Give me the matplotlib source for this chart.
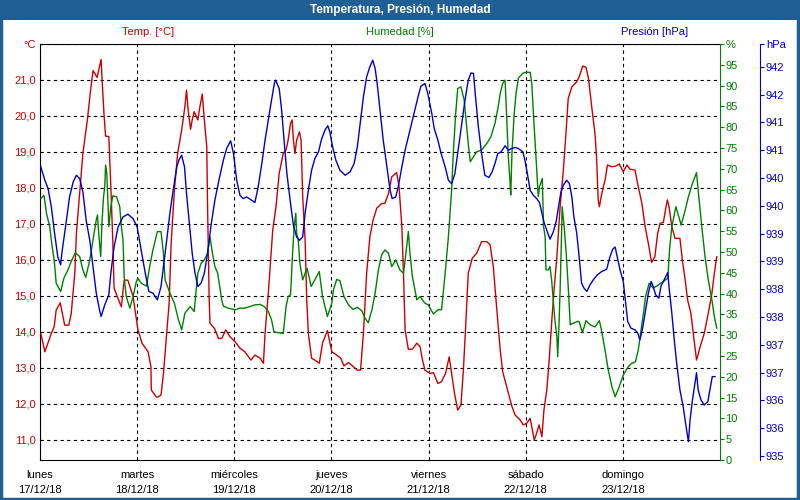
import matplotlib
matplotlib.use("Agg")
import matplotlib.pyplot as plt
from matplotlib.patches import Rectangle
import numpy as np

plt.rcParams["font.family"] = ["Liberation Sans", "DejaVu Sans"]

# ---------------------------------------------------------------------------
# data (hours since lunes 17/12/18 00:00)
days = ["lunes", "martes", "miércoles", "jueves", "viernes", "sábado", "domingo"]
dates = ["17/12/18", "18/12/18", "19/12/18", "20/12/18", "21/12/18", "22/12/18", "23/12/18"]

temp_h = [0.2, 1.2, 2.8, 3.5, 4.0, 5.0, 6.1, 7.1, 7.7, 8.6,
          9.0, 9.8, 10.6, 11.7, 12.5, 13.1, 13.5, 14.1, 14.6, 15.1,
          15.3, 15.8, 16.2, 17.0, 17.5, 18.0, 18.3, 19.1, 20.1, 20.8,
          21.7, 23.0, 24.2, 25.2, 26.7, 27.4, 27.5, 28.7, 29.1, 29.9,
          30.5, 31.3, 31.9, 32.4, 33.2, 34.0, 35.0, 35.8, 36.2, 36.6,
          37.2, 37.6, 38.1, 39.0, 39.5, 40.1, 40.6, 41.2, 41.4, 41.8,
          42.0, 43.1, 44.1, 44.9, 45.9, 46.9, 48.2, 49.4, 50.6, 52.1,
          53.1, 54.4, 55.2, 55.6, 56.4, 57.1, 57.5, 58.3, 59.1, 60.1,
          60.8, 61.3, 61.9, 62.3, 62.6, 63.0, 63.4, 64.1, 64.5, 64.9,
          65.5, 65.9, 66.3, 67.1, 67.9, 69.0, 69.8, 71.0, 72.1, 73.3,
          74.3, 75.1, 76.2, 77.4, 78.4, 79.2, 79.9, 80.7, 81.5, 82.3,
          83.2, 84.4, 85.2, 86.1, 86.9, 88.1, 88.7, 89.4, 89.8, 90.2,
          91.0, 92.0, 93.1, 93.9, 94.5, 95.1, 96.4, 97.2, 98.3, 99.2,
          100.2, 101.1, 101.7, 102.4, 103.2, 104.0, 104.6, 105.2, 105.8, 106.8,
          107.9, 109.1, 110.4, 111.2, 112.0, 112.8, 113.7, 114.3, 115.3, 116.6,
          117.4, 118.6, 119.4, 120.2, 121.1, 121.5, 122.1, 122.7, 123.3, 124.0,
          124.5, 125.2, 125.8, 126.4, 127.0, 127.7, 128.5, 129.3, 130.0, 130.5,
          131.4, 132.6, 133.2, 134.1, 134.9, 135.5, 136.3, 137.1, 137.5, 137.9,
          138.2, 138.8, 139.6, 140.2, 141.2, 142.3, 143.1, 144.1, 145.0, 145.8,
          147.0, 147.8, 148.7, 149.5, 150.3, 151.1, 151.9, 152.6, 153.2, 154.0,
          154.6, 155.0, 155.4, 156.1, 156.9, 158.1, 158.7, 159.4, 160.0, 160.8,
          161.4, 162.2, 163.1, 164.1, 165.1, 166.0, 166.6, 167.2]
temp_v = [13.96, 13.45, 13.96, 14.15, 14.61, 14.81, 14.19, 14.19, 14.5, 15.64,
          16.75, 17.86, 18.97, 19.89, 20.72, 21.26, 21.19, 21.07, 21.32, 21.57,
          21.09, 20.07, 19.44, 19.43, 18.04, 16.47, 15.22, 14.98, 14.70, 15.44,
          15.44, 14.98, 14.06, 13.69, 13.45, 13.04, 12.39, 12.2, 12.19, 12.25,
          12.85, 13.96, 14.8, 16.46, 17.94, 18.96, 19.61, 20.26, 20.72, 20.17,
          19.63, 19.89, 20.12, 19.89, 20.26, 20.61, 19.89, 19.15, 17.48, 14.89,
          14.24, 14.1, 13.82, 13.82, 14.06, 13.87, 13.73, 13.55, 13.45, 13.22,
          13.36, 13.27, 13.13, 13.96, 15.07, 16.19, 16.83, 17.48, 18.41, 18.96,
          19.06, 19.33, 19.8, 19.89, 19.33, 18.96, 19.33, 19.56, 19.33, 17.76,
          16.56, 14.89, 13.96, 13.27, 13.22, 13.13, 13.69, 14.04, 13.45, 13.36,
          13.27, 13.06, 13.15, 13.04, 12.94, 12.94, 13.96, 15.63, 16.65, 17.11,
          17.44, 17.57, 17.57, 17.85, 18.31, 18.43, 18.04, 16.93, 15.63, 14.06,
          13.52, 13.52, 13.69, 13.59, 13.22, 12.94, 12.85, 12.87, 12.57, 12.62,
          12.85, 13.31, 12.85, 12.3, 11.83, 11.97, 12.94, 14.24, 15.63, 16.05,
          16.19, 16.51, 16.51, 16.42, 15.81, 14.70, 13.5, 12.9, 12.48, 11.93,
          11.69, 11.56, 11.42, 11.46, 11.6, 11.37, 11.0, 11.19, 11.42, 11.09,
          11.83, 12.39, 13.22, 14.24, 15.17, 16.09, 17.48, 18.5, 19.61, 20.49,
          20.81, 20.95, 21.09, 21.39, 21.35, 21.05, 20.26, 19.52, 18.87, 17.67,
          17.48, 17.85, 18.22, 18.64, 18.59, 18.61, 18.67, 18.45, 18.64, 18.52,
          18.5, 18.04, 17.57, 16.93, 16.46, 15.93, 16.09, 16.74, 17.02, 17.04,
          17.44, 17.67, 17.48, 16.93, 16.60, 16.60, 16.0, 15.44, 14.89, 14.52,
          13.96, 13.22, 13.59, 13.96, 14.52, 15.07, 15.63, 16.09]

hum_h = [0.2, 1.0, 1.6, 2.4, 3.0, 3.5, 4.0, 5.1, 5.9, 6.9,
         7.7, 8.7, 9.8, 10.6, 11.3, 12.3, 13.1, 13.9, 14.2, 14.5,
         15.0, 15.3, 15.7, 16.0, 16.2, 16.5, 16.8, 17.0, 17.5, 18.0,
         18.9, 19.7, 20.1, 20.5, 20.8, 21.3, 22.2, 23.0, 23.8, 24.2,
         25.0, 26.3, 27.1, 27.9, 29.0, 29.9, 30.5, 30.9, 32.1, 33.2,
         34.2, 35.0, 35.8, 37.1, 38.1, 38.5, 39.0, 39.8, 40.6, 41.4,
         42.0, 42.6, 43.2, 43.9, 44.9, 45.3, 46.5, 48.2, 49.4, 50.6,
         51.9, 53.1, 54.4, 55.4, 56.4, 57.2, 57.8, 58.9, 60.1, 60.8,
         61.3, 61.9, 62.4, 62.8, 63.2, 63.4, 63.8, 64.2, 64.9, 65.5,
         66.0, 67.0, 67.9, 69.0, 69.8, 71.0, 72.1, 72.5, 73.3, 74.1,
         75.1, 76.2, 77.3, 78.4, 79.5, 80.3, 81.1, 82.0, 82.8, 83.6,
         84.4, 85.2, 86.1, 86.9, 87.9, 88.9, 89.8, 90.4, 91.0, 91.4,
         92.0, 93.1, 93.9, 95.1, 95.9, 97.2, 98.3, 99.2, 100.1, 100.9,
         101.7, 102.1, 102.7, 103.2, 104.0, 104.8, 105.4, 105.8, 106.3, 107.1,
         107.9, 109.1, 110.4, 111.4, 112.4, 113.2, 113.7, 114.3, 114.9, 115.3,
         115.7, 116.1, 116.3, 116.6, 117.1, 117.6, 118.2, 119.3, 120.2, 121.1,
         121.5, 121.9, 122.3, 122.7, 123.1, 123.4, 123.7, 124.1, 124.4, 124.8,
         125.0, 125.6, 126.0, 126.4, 126.8, 127.2, 127.7, 127.9, 128.2, 128.5,
         128.8, 129.0, 129.5, 130.0, 130.5, 131.0, 131.8, 132.8, 133.2, 134.0,
         134.9, 135.9, 137.1, 138.2, 138.8, 139.6, 140.4, 141.3, 142.1, 143.1,
         144.1, 145.3, 146.1, 147.1, 147.8, 148.5, 149.1, 149.6, 150.5, 151.5,
         152.8, 154.0, 155.1, 155.6, 156.1, 157.1, 157.7, 158.4, 159.2, 160.2,
         161.2, 162.2, 162.6, 163.5, 164.3, 165.1, 166.0, 166.6, 167.2]
hum_v = [62.9, 63.6, 59.3, 56.1, 51.3, 48.1, 42.5, 40.5, 43.7, 45.7,
         47.7, 49.8, 48.9, 45.7, 43.9, 48.1, 52.9, 57.7, 58.9, 54.5,
         48.9, 56.9, 63.3, 65.7, 70.9, 68.9, 61.7, 56.1, 60.9, 63.5,
         63.3, 60.9, 56.1, 52.9, 44.1, 39.3, 36.5, 39.3, 42.9, 43.7,
         42.5, 41.8, 46.5, 50.5, 54.9, 54.9, 49.7, 43.3, 40.1, 37.7,
         33.7, 31.3, 35.3, 36.9, 35.7, 40.1, 44.9, 47.3, 48.1, 49.7,
         53.7, 49.7, 46.5, 44.9, 38.5, 37.0, 36.5, 36.1, 36.5, 36.5,
         36.9, 37.3, 37.4, 36.9, 35.7, 33.7, 30.8, 30.6, 30.4, 36.9,
         39.3, 39.7, 49.7, 56.1, 59.3, 54.5, 52.9, 47.3, 43.3, 44.9,
         46.1, 41.7, 43.3, 45.3, 39.3, 34.5, 37.7, 40.9, 43.4, 43.1,
         39.3, 37.3, 36.2, 36.7, 35.9, 34.1, 33.0, 36.1, 40.1, 45.7,
         49.3, 50.5, 49.7, 46.5, 48.1, 45.7, 44.9, 49.7, 54.9, 49.7,
         44.1, 38.5, 39.3, 37.7, 37.3, 35.1, 36.1, 36.1, 44.9, 53.7,
         64.9, 73.7, 83.3, 89.3, 89.7, 86.5, 80.1, 76.1, 71.7, 72.9,
         74.1, 74.5, 76.1, 77.7, 80.9, 84.9, 88.1, 90.5, 91.3, 82.5,
         72.9, 67.3, 63.7, 73.7, 82.5, 88.1, 91.8, 93.0, 93.2, 93.2,
         90.5, 83.3, 76.9, 70.1, 63.3, 65.7, 66.5, 67.7, 56.1, 53.7,
         45.7, 45.7, 46.5, 43.3, 38.5, 33.7, 29.6, 24.8, 32.0, 40.9,
         52.1, 60.9, 56.1, 49.7, 41.7, 32.5, 32.9, 33.3, 33.3, 30.6,
         33.5, 32.5, 32.0, 33.5, 30.8, 26.4, 21.6, 17.6, 15.2, 17.6,
         20.4, 22.4, 23.2, 23.6, 26.4, 31.3, 35.3, 39.3, 42.5, 41.3,
         42.1, 42.9, 43.7, 51.3, 56.1, 60.9, 58.9, 56.5, 59.3, 63.3,
         66.5, 69.1, 64.9, 56.1, 48.9, 43.3, 38.5, 34.5, 31.7]

pres_h = [0.2, 1.2, 2.0, 2.8, 3.6, 4.4, 5.1, 5.4, 6.3, 7.3,
          8.2, 9.0, 9.8, 10.6, 11.4, 12.3, 13.1, 13.9, 14.7, 15.1,
          16.0, 17.0, 17.5, 18.3, 19.3, 20.5, 21.7, 23.0, 24.0, 25.0,
          26.0, 26.9, 27.9, 29.0, 29.9, 30.5, 31.3, 32.1, 32.9, 33.8,
          34.3, 35.0, 35.7, 36.2, 36.9, 37.6, 38.3, 39.0, 39.8, 40.6,
          41.4, 42.2, 43.2, 44.2, 45.3, 46.1, 47.1, 47.8, 48.6, 49.4,
          50.2, 51.1, 52.3, 53.1, 53.9, 54.8, 55.6, 56.4, 57.2, 57.9,
          58.2, 58.5, 59.1, 59.7, 60.3, 61.0, 61.8, 62.6, 63.4, 64.1,
          64.9, 65.5, 66.3, 67.1, 67.9, 68.8, 69.6, 70.4, 71.1, 71.6,
          72.3, 73.1, 74.1, 75.4, 76.6, 77.6, 78.4, 79.1, 79.9, 80.7,
          81.5, 82.2, 82.8, 83.3, 84.0, 84.8, 85.7, 86.5, 87.0, 87.9,
          88.5, 89.4, 90.2, 91.0, 91.8, 92.7, 93.5, 94.1, 95.1, 95.8,
          96.8, 97.4, 98.3, 99.1, 100.1, 100.9, 101.7, 102.5, 103.3, 104.2,
          105.0, 105.8, 106.5, 107.1, 107.6, 108.3, 109.1, 109.9, 110.9, 111.7,
          112.4, 113.1, 113.9, 114.9, 115.7, 116.5, 117.4, 118.2, 119.3, 119.8,
          120.4, 121.1, 121.9, 122.7, 123.4, 124.0, 124.5, 125.2, 126.0, 126.8,
          127.5, 128.1, 128.7, 129.3, 130.1, 130.8, 131.4, 131.9, 132.6, 133.2,
          133.8, 134.4, 135.1, 135.9, 136.7, 137.7, 138.8, 140.0, 140.8, 141.5,
          142.1, 142.7, 143.3, 144.1, 144.7, 145.2, 146.0, 147.0, 147.7, 148.2,
          148.8, 149.5, 150.3, 151.0, 151.5, 152.1, 152.9, 153.4, 154.2, 155.1,
          155.4, 156.1, 156.7, 157.3, 158.1, 158.9, 159.5, 160.2, 160.6, 161.2,
          161.7, 162.2, 162.6, 163.3, 164.1, 165.0, 165.5, 166.1, 166.8]
pres_v = [940.20, 939.96, 939.81, 939.48, 939.01, 938.58, 938.44, 938.65, 939.12, 939.66,
          939.93, 940.05, 939.99, 939.75, 939.24, 938.88, 938.40, 937.93, 937.63, 937.51,
          937.72, 937.90, 938.29, 938.76, 939.12, 939.30, 939.35, 939.27, 939.12, 938.71,
          938.29, 937.96, 937.93, 937.81, 938.05, 938.40, 938.88, 939.37, 939.78, 940.20,
          940.32, 940.41, 940.20, 939.72, 939.19, 938.65, 938.29, 938.05, 938.11, 938.29,
          938.65, 939.12, 939.60, 939.96, 940.32, 940.53, 940.67, 940.44, 939.96, 939.69,
          939.63, 939.66, 939.60, 939.56, 939.84, 940.26, 940.68, 941.04, 941.40, 941.70,
          941.76, 941.71, 941.61, 941.22, 940.68, 940.08, 939.60, 939.15, 938.94, 938.88,
          938.94, 939.37, 939.78, 940.14, 940.35, 940.47, 940.71, 940.86, 940.94, 940.83,
          940.56, 940.32, 940.14, 940.05, 940.11, 940.26, 940.56, 940.98, 941.46, 941.82,
          942.00, 942.12, 941.97, 941.70, 941.22, 940.68, 940.20, 939.78, 939.63, 939.66,
          939.84, 940.20, 940.50, 940.74, 940.98, 941.25, 941.49, 941.65, 941.70, 941.52,
          941.16, 940.89, 940.68, 940.44, 940.20, 939.96, 939.90, 940.08, 940.50, 940.98,
          941.40, 941.76, 941.89, 941.88, 941.46, 940.92, 940.44, 940.05, 940.01, 940.11,
          940.26, 940.44, 940.47, 940.58, 940.50, 940.53, 940.55, 940.53, 940.47, 940.32,
          940.08, 939.78, 939.69, 939.63, 939.56, 939.37, 939.21, 939.06, 938.90, 939.03,
          939.21, 939.48, 939.75, 939.87, 939.96, 939.90, 939.66, 939.30, 939.01, 938.58,
          938.11, 938.02, 937.96, 938.08, 938.17, 938.26, 938.32, 938.36, 938.58, 938.72,
          938.76, 938.55, 938.35, 938.14, 937.75, 937.42, 937.30, 937.27, 937.21, 937.09,
          937.27, 937.57, 937.93, 938.14, 938.05, 937.90, 937.84, 938.05, 938.17, 938.30,
          938.05, 937.57, 937.09, 936.67, 936.19, 935.89, 935.59, 935.26, 935.65, 936.01,
          936.25, 936.50, 936.19, 936.01, 935.92, 935.98, 936.19, 936.43, 936.43]

# ---------------------------------------------------------------------------
RED = "#cc0000"
GREEN = "#008000"
BLUE = "#0000cc"
FRAME = "#1f5f95"
FS = 8

fig = plt.figure(figsize=(8, 5), dpi=100)
fig.patch.set_facecolor("white")

# title bar + frame
fig.patches.append(Rectangle((0, 0.96), 1, 0.04, transform=fig.transFigure,
                             facecolor=FRAME, edgecolor="none", zorder=0))
fig.patches.append(Rectangle((0.001, 0.002), 0.997, 0.996, transform=fig.transFigure,
                             fill=False, edgecolor=FRAME, linewidth=2.5, zorder=0))
fig.text(0.5, 0.98, "Temperatura, Presión, Humedad", color="white",
         fontsize=8.5, fontweight="bold", ha="center", va="center")
fig.text(148 / 800, 1 - 32 / 500, "Temp. [°C]", color=RED, fontsize=FS, ha="center", va="center")
fig.text(400 / 800, 1 - 32 / 500, "Humedad [%]", color=GREEN, fontsize=FS, ha="center", va="center")
fig.text(655 / 800, 1 - 32 / 500, "Presión [hPa]", color=BLUE, fontsize=FS, ha="center", va="center")

ax = fig.add_axes([40 / 800, 40 / 500, 680 / 800, 416 / 500])
ax2 = ax.twinx()
ax3 = ax.twinx()

# temperature
ax.plot(temp_h, temp_v, color=RED, lw=1.0, zorder=3)
ax.set_ylim(10.444, 22.0)
t_ticks = list(range(11, 23))
ax.set_yticks(t_ticks)
ax.set_yticklabels([f"{t:.1f}".replace(".", ",") for t in t_ticks[:-1]] + ["°C"])
ax.tick_params(axis="y", colors=RED, labelsize=FS, length=0, pad=3)
ax.set_xlim(0, 168)
ax.set_xticks([24 * i for i in range(7)])
ax.set_xticklabels([f"{d}\n{dt}" for d, dt in zip(days, dates)])
ax.tick_params(axis="x", labelsize=FS, length=0, pad=7, colors="black")
for lab in ax.get_xticklabels():
    lab.set_linespacing(1.7)
ax.grid(True, color="black", linestyle=(0, (3, 3)), linewidth=0.8)
for s in ["left", "bottom", "top"]:
    ax.spines[s].set_color("black")
ax.spines["right"].set_visible(False)

# humidity
ax2.plot(hum_h, hum_v, color=GREEN, lw=1.0)
ax2.set_ylim(0, 100)
h_ticks = list(range(0, 101, 5))
ax2.set_yticks(h_ticks)
ax2.set_yticklabels([str(h) for h in h_ticks[:-1]] + ["%"])
ax2.tick_params(axis="y", colors=GREEN, labelsize=FS, length=3, pad=1)
ax2.spines["right"].set_color(GREEN)
for s in ["left", "top", "bottom"]:
    ax2.spines[s].set_visible(False)

# pressure
ax3.plot(pres_h, pres_v, color=BLUE, lw=1.0)
p_lo, p_hi = 934.93, 942.41
ax3.set_ylim(p_lo, p_hi)
p_ticks = list(np.arange(935, 942.01, 0.5)) + [p_hi]
ax3.set_yticks(p_ticks)
ax3.set_yticklabels([str(int(np.floor(p + 0.5))) for p in p_ticks[:-1]] + ["hPa"])
ax3.tick_params(axis="y", colors=BLUE, labelsize=FS, length=3, pad=1)
ax3.spines["right"].set_position(("outward", 29))
ax3.spines["right"].set_color(BLUE)
for s in ["left", "top", "bottom"]:
    ax3.spines[s].set_visible(False)

fig.savefig("out.png", dpi=100, facecolor=fig.get_facecolor())
